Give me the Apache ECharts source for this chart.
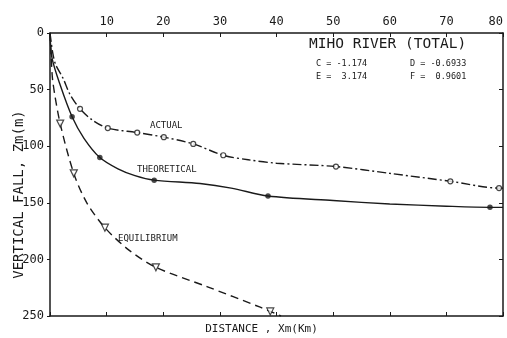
<!DOCTYPE html>
<html><head><meta charset="utf-8">
<script src="https://cdn.jsdelivr.net/npm/echarts@6/dist/echarts.min.js"></script>
<style>html,body{margin:0;padding:0;background:#fff}#c{width:507px;height:338px}</style>
</head><body><div id="c"></div>
<script>
// Curve traces: [distance km, vertical fall m]
const actualCurve = [[0,0],[0.5,18],[1,28],[2.3,40],[3.5,54],[5.3,67],[7.5,77],[10.2,84],[15.4,88],[20.1,92],[25.3,98],[30.6,108],[35,112],[40,115],[50.5,118],[60,124],[70.7,131],[79.3,137],[80,137]];
const actualMarks = [[5.3,67],[10.2,84],[15.4,88],[20.1,92],[25.3,98],[30.6,108],[50.5,118],[70.7,131],[79.3,137]];
const theoreticalCurve = [[0,0],[0.35,22],[1.8,46],[3.9,74],[6,93],[8.8,110],[12,120],[15,126],[18.4,130],[26.5,133],[32,137],[38.5,144],[50,148],[60,151],[70,153],[77.7,154],[80,154]];
const theoreticalMarks = [[3.9,74],[8.8,110],[18.4,130],[38.5,144],[77.7,154]];
const equilibriumCurve = [[0,0],[0.2,20],[0.5,43],[1.8,80],[4.2,124],[6.5,150],[9.7,172],[14,192],[18.7,207],[27.7,224],[37,242],[38.9,246],[40.8,250]];
const equilibriumMarks = [[1.8,80],[4.2,124],[9.7,172],[18.7,207],[38.9,246]];
const xTicks = [0,10,20,30,40,50,60,70,80];
const yTicks = [0,50,100,150,200,250];
const curveNames = ['ACTUAL','THEORETICAL','EQUILIBRIUM'];
const titleText = 'MIHO RIVER (TOTAL)';
const params = ['C = -1.174','D = -0.6933','E =  3.174','F =  0.9601'];

const ink = '#1a1a1a';
const mono = '"DejaVu Sans Mono", monospace';
const chart = echarts.init(document.getElementById('c'));
const axisCommon = {
  type:'value', min:0, max:80, interval:10,
  axisLine:{show:true, onZero:false, lineStyle:{color:ink, width:1.5}},
  axisTick:{show:true, inside:true, length:4, lineStyle:{color:ink}},
  splitLine:{show:false}
};
chart.setOption({
  backgroundColor:'#fff',
  animation:false,
  grid:{left:50, right:4, top:33, bottom:22, containLabel:false, outerBoundsMode:'none'},
  xAxis:[
    Object.assign({}, axisCommon, {position:'top',
      axisLabel:{color:ink, fontFamily:mono, fontSize:12, margin:5, alignMaxLabel:'right',
        formatter:v => (v===0 ? '' : String(v))}}),
    Object.assign({}, axisCommon, {position:'bottom', axisLabel:{show:false},
      name:'DISTANCE , Xm(Km)', nameLocation:'middle', nameGap:8,
      nameTextStyle:{color:ink, fontFamily:mono, fontSize:11, padding:[0,30,0,0]}})
  ],
  yAxis:[
    {type:'value', inverse:true, min:0, max:250, interval:50, position:'left',
      axisLine:{show:true, onZero:false, lineStyle:{color:ink, width:1.5}},
      axisTick:{show:true, inside:false, length:3, lineStyle:{color:ink}},
      axisLabel:{color:ink, fontFamily:mono, fontSize:12, margin:6},
      splitLine:{show:false},
      name:'VERTICAL FALL, Zm(m)', nameLocation:'middle', nameGap:24, nameRotate:90, nameMoveOverlap:false,
      nameTextStyle:{color:ink, fontFamily:mono, fontSize:14, padding:[0,40,0,0]}},
    {type:'value', inverse:true, min:0, max:250, interval:50, position:'right',
      axisLine:{show:true, onZero:false, lineStyle:{color:ink, width:1.5}},
      axisTick:{show:true, inside:true, length:4, lineStyle:{color:ink}},
      axisLabel:{show:false}, splitLine:{show:false}}
  ],
  series:[
    {name:curveNames[0], type:'line', data:actualCurve, smooth:0.3, showSymbol:false, clip:true,
      lineStyle:{color:ink, width:1.4, type:[9,3,2,3]}},
    {name:curveNames[0]+' obs', type:'scatter', data:actualMarks, symbol:'circle', symbolSize:5,
      itemStyle:{color:'#fff', borderColor:ink, borderWidth:1.2}, z:5},
    {name:curveNames[1], type:'line', data:theoreticalCurve, smooth:0.3, showSymbol:false, clip:true,
      lineStyle:{color:ink, width:1.4}},
    {name:curveNames[1]+' pts', type:'scatter', data:theoreticalMarks, symbol:'circle', symbolSize:5.5,
      itemStyle:{color:ink}, z:5},
    {name:curveNames[2], type:'line', data:equilibriumCurve, smooth:0.3, showSymbol:false, clip:true,
      lineStyle:{color:ink, width:1.4, type:[8,5]}},
    {name:curveNames[2]+' pts', type:'scatter', data:equilibriumMarks, symbol:'triangle', symbolRotate:180, symbolSize:7,
      itemStyle:{color:'#fff', borderColor:ink, borderWidth:1.2}, z:5}
  ],
  graphic:[
    {type:'text', left:309, top:37, style:{text:titleText, font:'14.5px '+mono, fill:ink}},
    {type:'text', left:316, top:59, style:{text:params[0], font:'8.5px '+mono, fill:ink}},
    {type:'text', left:410, top:59, style:{text:params[1], font:'8.5px '+mono, fill:ink}},
    {type:'text', left:316, top:72, style:{text:params[2], font:'8.5px '+mono, fill:ink}},
    {type:'text', left:410, top:72, style:{text:params[3], font:'8.5px '+mono, fill:ink}},
    {type:'text', left:150, top:121, style:{text:curveNames[0], font:'9px '+mono, fill:ink}},
    {type:'text', left:137, top:165, style:{text:curveNames[1], font:'9px '+mono, fill:ink}},
    {type:'text', left:118, top:234, style:{text:curveNames[2], font:'9px '+mono, fill:ink}}
  ]
});
</script></body></html>
